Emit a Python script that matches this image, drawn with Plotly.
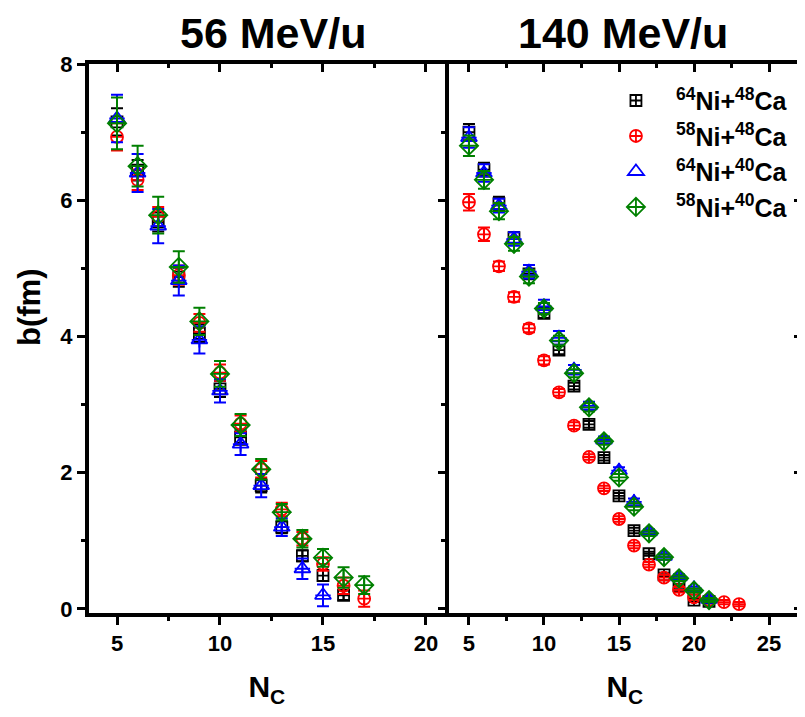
import plotly.graph_objects as go

# ---------------- data ----------------
series_names = ["<sup>64</sup>Ni+<sup>48</sup>Ca", "<sup>58</sup>Ni+<sup>48</sup>Ca",
                "<sup>64</sup>Ni+<sup>40</sup>Ca", "<sup>58</sup>Ni+<sup>40</sup>Ca"]
colors = ["black", "red", "blue", "green"]
symbols = ["square-cross-open", "circle-cross-open", "triangle-up-open", "diamond-cross-open"]

# 56 MeV/u panel
nc56_black = [5, 6, 7, 8, 9, 10, 11, 12, 13, 14, 15, 16]
b56_black = [7.15, 6.44, 5.68, 4.87, 4.05, 3.23, 2.52, 1.81, 1.20, 0.78, 0.49, 0.20]
e56_black = [0.20, 0.15, 0.14, 0.14, 0.13, 0.12, 0.11, 0.10, 0.09, 0.08, 0.08, 0.07]

nc56_red = [5, 6, 7, 8, 9, 10, 11, 12, 13, 14, 15, 16, 17]
b56_red = [6.93, 6.30, 5.76, 4.90, 4.20, 3.47, 2.72, 2.05, 1.46, 1.03, 0.66, 0.34, 0.15]
e56_red = [0.20, 0.15, 0.14, 0.14, 0.13, 0.12, 0.12, 0.12, 0.10, 0.10, 0.10, 0.12, 0.12]

nc56_blue = [5, 6, 7, 8, 9, 10, 11, 12, 13, 14, 15]
b56_blue = [7.20, 6.40, 5.62, 4.82, 3.95, 3.20, 2.42, 1.81, 1.20, 0.59, 0.20]
e56_blue = [0.35, 0.28, 0.25, 0.22, 0.20, 0.17, 0.16, 0.17, 0.13, 0.15, 0.16]

nc56_green = [5, 6, 7, 8, 9, 10, 11, 12, 13, 14, 15, 16, 17]
b56_green = [7.13, 6.50, 5.78, 5.02, 4.22, 3.45, 2.70, 2.05, 1.42, 1.03, 0.75, 0.46, 0.35]
e56_green = [0.38, 0.30, 0.27, 0.23, 0.20, 0.19, 0.16, 0.15, 0.12, 0.13, 0.13, 0.15, 0.13]

# 140 MeV/u panel
nc140_black = [5, 6, 7, 8, 9, 10, 11, 12, 13, 14, 15, 16, 17, 18, 19, 20, 21]
b140_black = [7.00, 6.45, 5.95, 5.45, 4.92, 4.34, 3.80, 3.27, 2.71, 2.22, 1.66, 1.15, 0.81, 0.50, 0.34, 0.13, 0.11]
e140_black = [0.12, 0.10, 0.10, 0.08, 0.07, 0.07, 0.06, 0.05, 0.05, 0.04, 0.04, 0.04, 0.03, 0.03, 0.03, 0.03, 0.03]

nc140_red = [5, 6, 7, 8, 9, 10, 11, 12, 13, 14, 15, 16, 17, 18, 19, 20, 21, 22, 23]
b140_red = [5.97, 5.50, 5.03, 4.58, 4.12, 3.65, 3.18, 2.69, 2.23, 1.77, 1.32, 0.93, 0.65, 0.46, 0.28, 0.17, 0.13, 0.10, 0.07]
e140_red = [0.12, 0.10, 0.07, 0.07, 0.06, 0.06, 0.05, 0.05, 0.04, 0.04, 0.04, 0.04, 0.04, 0.04, 0.04, 0.04, 0.03, 0.03, 0.03]

nc140_blue = [5, 6, 7, 8, 9, 10, 11, 12, 13, 14, 15, 16, 17, 18, 19, 20, 21]
b140_blue = [6.92, 6.40, 5.92, 5.43, 4.95, 4.44, 3.98, 3.51, 2.98, 2.48, 2.03, 1.57, 1.13, 0.77, 0.47, 0.30, 0.14]
e140_blue = [0.15, 0.13, 0.10, 0.10, 0.10, 0.10, 0.10, 0.07, 0.06, 0.05, 0.05, 0.05, 0.04, 0.04, 0.04, 0.03, 0.03]

nc140_green = [5, 6, 7, 8, 9, 10, 11, 12, 13, 14, 15, 16, 17, 18, 19, 20, 21]
b140_green = [6.80, 6.30, 5.84, 5.36, 4.88, 4.41, 3.94, 3.46, 2.96, 2.46, 1.93, 1.50, 1.11, 0.76, 0.45, 0.27, 0.13]
e140_green = [0.15, 0.13, 0.12, 0.10, 0.10, 0.08, 0.07, 0.06, 0.06, 0.05, 0.05, 0.05, 0.04, 0.04, 0.04, 0.03, 0.03]

panel_titles = ["56 MeV/u", "140 MeV/u"]
x_title = "N<sub>C</sub>"
y_title = "b(fm)"

# ---------------- figure ----------------
FONT = "Liberation Sans, Arial, sans-serif"
fig = go.Figure()

left = [(nc56_black, b56_black, e56_black), (nc56_red, b56_red, e56_red),
        (nc56_blue, b56_blue, e56_blue), (nc56_green, b56_green, e56_green)]
right = [(nc140_black, b140_black, e140_black), (nc140_red, b140_red, e140_red),
         (nc140_blue, b140_blue, e140_blue), (nc140_green, b140_green, e140_green)]

msize = [11, 12, 14, 14]

for panel, (data, xa, ya) in enumerate([(left, "x", "y"), (right, "x2", "y2")]):
    for i, (xs, ys, es) in enumerate(data):
        fig.add_trace(go.Scatter(
            x=xs, y=ys, mode="markers", name=series_names[i],
            xaxis=xa, yaxis=ya, legendgroup=str(i), showlegend=(panel == 1),
            marker=dict(symbol=symbols[i], size=msize[i], color=colors[i],
                        line=dict(width=1.8, color=colors[i])),
            error_y=dict(type="data", array=es, visible=True, color=colors[i],
                         thickness=2, width=6),
        ))
        if i == 2:  # cross inside the triangle
            fig.add_trace(go.Scatter(
                x=xs, y=ys, mode="markers", xaxis=xa, yaxis=ya, showlegend=False,
                legendgroup=str(i), hoverinfo="skip",
                marker=dict(symbol="cross-thin-open", size=11, color=colors[i],
                            line=dict(width=1.8, color=colors[i])),
            ))

# dummy traces so overlay axes get drawn
for xa, ya in [("x3", "y"), ("x", "y3"), ("x4", "y2"), ("x2", "y4")]:
    fig.add_trace(go.Scatter(x=[None], y=[None], xaxis=xa, yaxis=ya,
                             showlegend=False, hoverinfo="skip"))

# page body has an 8px margin -> figure is offset by 8px
OFF = 8
W, H = 805 - OFF, 717 - OFF
L, R, T, B = 89 - OFF, 4, 64 - OFF, 104
pw = W - L - R
d1 = [0, (444.7 - OFF - L) / pw]
d2 = [(448.7 - OFF - L) / pw, 1]
xr1 = [3.64, 20.91]
xr2 = [3.65, 27.13]
yr = [-0.06, 8.0]

LW = 4
tickfont = dict(family=FONT, size=22, color="black", weight="bold")
titlefont = dict(family=FONT, size=30, color="black", weight="bold")

def xbase(domain, rng, anchor):
    return dict(domain=domain, range=rng, anchor=anchor, showgrid=False, zeroline=False,
                showline=True, linewidth=LW, linecolor="black",
                ticks="outside", ticklen=8, tickwidth=3, tickcolor="black",
                dtick=5, tick0=0, tickfont=tickfont,
                minor=dict(dtick=2.5, tick0=0, ticks="outside", ticklen=4, tickwidth=3,
                           tickcolor="black"),
                title=dict(text=x_title, font=titlefont, standoff=22))

def xtop(over, rng, anchor):
    return dict(overlaying=over, side="top", range=rng, anchor=anchor, showgrid=False,
                zeroline=False, showline=True, linewidth=LW, linecolor="black",
                ticks="inside", ticklen=8, tickwidth=3, tickcolor="black",
                dtick=5, tick0=0, showticklabels=False,
                minor=dict(dtick=2.5, tick0=0, ticks="inside", ticklen=4, tickwidth=3,
                           tickcolor="black"))

def yright(over, anchor):
    return dict(overlaying=over, side="right", range=yr, anchor=anchor, showgrid=False,
                zeroline=False, showline=True, linewidth=LW, linecolor="black",
                ticks="inside", ticklen=7, tickwidth=3, tickcolor="black",
                dtick=2, tick0=0, showticklabels=False,
                minor=dict(dtick=1, tick0=0, ticks="inside", ticklen=4, tickwidth=3,
                           tickcolor="black"))

fig.update_layout(
    width=W, height=H,
    margin=dict(l=L, r=R, t=T, b=B),
    paper_bgcolor="white", plot_bgcolor="white",
    font=dict(family=FONT, color="black"),
    xaxis=xbase(d1, xr1, "y"),
    xaxis2=xbase(d2, xr2, "y2"),
    xaxis3=xtop("x", xr1, "y"),
    xaxis4=xtop("x2", xr2, "y2"),
    yaxis=dict(domain=[0, 1], range=yr, anchor="x", showgrid=False, zeroline=False,
               showline=True, linewidth=LW, linecolor="black",
               ticks="outside", ticklen=8, tickwidth=3, tickcolor="black",
               dtick=2, tick0=0, tickfont=tickfont,
               minor=dict(dtick=1, tick0=0, ticks="outside", ticklen=4, tickwidth=3,
                          tickcolor="black")),
    yaxis2=dict(domain=[0, 1], range=yr, anchor="x2", showgrid=False, zeroline=False,
                showline=False, ticks="", showticklabels=False),
    yaxis3=yright("y", "x"),
    yaxis4=yright("y2", "x2"),
    legend=dict(x=0.712, y=0.975, xanchor="left", yanchor="top",
                bgcolor="rgba(0,0,0,0)", borderwidth=0,
                font=dict(family=FONT, size=25, color="black", weight="bold"),
                tracegroupgap=0, itemsizing="trace", itemwidth=70),
    showlegend=True,
)

# y-axis title
fig.add_annotation(text=y_title, xref="paper", x=(29 - OFF - L) / pw, xanchor="center",
                   yref="paper", y=1 - (308 - 64) / (613 - 64), yanchor="middle",
                   textangle=-90, showarrow=False,
                   font=dict(family=FONT, size=31, color="black", weight="bold"))

for k, t in enumerate(panel_titles):
    fig.add_annotation(text=t, xref=("x domain" if k == 0 else "x2 domain"),
                       x=0.5, yref="paper", y=1, yanchor="bottom", yshift=5,
                       xshift=(6 if k == 0 else -2),
                       showarrow=False,
                       font=dict(family=FONT, size=43, color="black", weight="bold"))

fig.write_html("out.html")
